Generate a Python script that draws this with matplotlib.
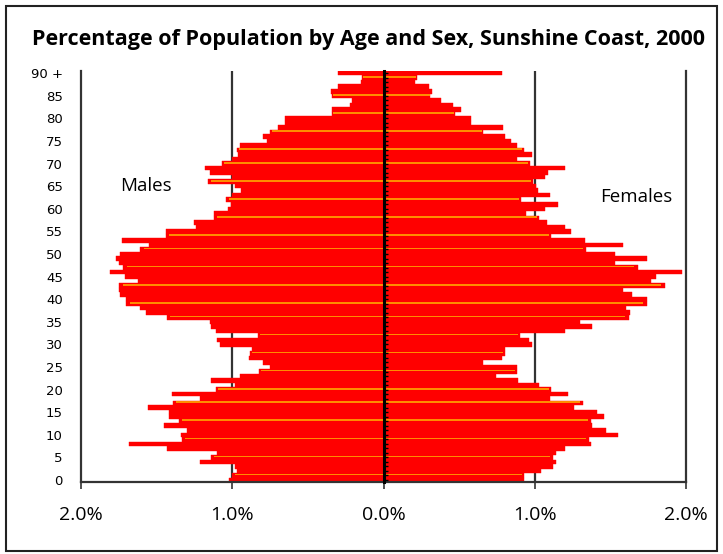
import numpy as np
import matplotlib
matplotlib.use("Agg")
import matplotlib.pyplot as plt
from matplotlib.patches import Rectangle
from matplotlib.ticker import FuncFormatter

# Single year of age, 0 .. 90+
ages = list(range(0, 91))

# Percentage of total population
males = [
    1.02, 1.00, 0.97, 0.98, 1.21, 1.14, 1.10, 1.43, 1.68, 1.33,
    1.34, 1.30, 1.45, 1.35, 1.42, 1.42, 1.56, 1.39, 1.21, 1.40,
    1.11, 0.98, 1.14, 0.95, 0.82, 0.75, 0.80, 0.89, 0.88, 0.87,
    1.08, 1.10, 0.83, 1.11, 1.14, 1.15, 1.43, 1.57, 1.61, 1.70,
    1.70, 1.74, 1.75, 1.75, 1.62, 1.71, 1.81, 1.72, 1.75, 1.77,
    1.74, 1.61, 1.55, 1.73, 1.44, 1.44, 1.24, 1.25, 1.12, 1.12,
    1.03, 1.01, 1.04, 1.00, 0.94, 0.98, 1.16, 1.00, 1.15, 1.18,
    1.07, 1.00, 0.96, 0.97, 0.95, 0.77, 0.80, 0.75, 0.70, 0.65,
    0.65, 0.34, 0.34, 0.22, 0.21, 0.34, 0.35, 0.30, 0.15, 0.14,
    0.30,
]
females = [
    0.93, 0.93, 1.04, 1.12, 1.14, 1.12, 1.14, 1.20, 1.37, 1.36,
    1.55, 1.47, 1.38, 1.37, 1.46, 1.41, 1.26, 1.32, 1.10, 1.22,
    1.11, 1.03, 0.89, 0.74, 0.88, 0.88, 0.66, 0.78, 0.80, 0.80,
    0.98, 0.96, 0.90, 1.20, 1.38, 1.30, 1.62, 1.63, 1.60, 1.74,
    1.74, 1.64, 1.58, 1.86, 1.77, 1.80, 1.97, 1.68, 1.53, 1.74,
    1.53, 1.34, 1.58, 1.33, 1.11, 1.24, 1.20, 1.08, 1.03, 0.94,
    1.07, 1.15, 0.91, 1.10, 1.02, 1.01, 0.99, 1.07, 1.09, 1.20,
    0.97, 0.88, 0.98, 0.93, 0.88, 0.84, 0.80, 0.66, 0.79, 0.58,
    0.58, 0.47, 0.51, 0.46, 0.38, 0.31, 0.32, 0.30, 0.21, 0.22,
    0.78,
]

# ages where the orange bar border shows through in the original
stripe_ages = [1, 5, 9, 13, 17, 20, 24, 28, 32, 36, 39, 43,
               47, 51, 54, 58, 62, 66, 70, 73, 77, 81, 85, 89]

age_ticks = list(range(0, 91, 5))
age_labels = [str(a) for a in age_ticks[:-1]] + ["90 +"]
pct_ticks = [-2, -1, 0, 1, 2]

male_arr = -np.array(males)
female_arr = np.array(females)

fig = plt.figure(figsize=(7.23, 5.54), dpi=100)
ax = fig.add_axes([0.112, 0.1295, 0.837, 0.7425])

# red bars
ax.barh(ages, male_arr, height=1.0, color="#ff0000",
        edgecolor="#ff0000", linewidth=0.3, zorder=2)
ax.barh(ages, female_arr, height=1.0, color="#ff0000",
        edgecolor="#ff0000", linewidth=0.3, zorder=2)

# thin orange stripes inside some bars
s_idx = np.array(stripe_ages)
ax.barh(s_idx + 0.2, male_arr[s_idx] * 0.985, height=0.38, color="#ff8c00",
        linewidth=0, zorder=3)
ax.barh(s_idx + 0.2, female_arr[s_idx] * 0.985, height=0.38, color="#ff8c00",
        linewidth=0, zorder=3)

ax.set_xlim(-2, 2)
ax.set_ylim(-0.5, 90.5)

# vertical gridlines behind the bars
for x in [-1, 1]:
    ax.axvline(x, color="#333333", linewidth=1.6, zorder=1)

ax.set_xticks(pct_ticks)
ax.xaxis.set_major_formatter(FuncFormatter(lambda v, p: "%.1f%%" % abs(v)))
ax.tick_params(axis="x", direction="out", length=5, width=1.2,
               color="#333333", labelsize=14, pad=12)
for lab in ax.get_xticklabels():
    lab.set_family("Open Sans")

ax.set_yticks(age_ticks)
ax.set_yticklabels(age_labels)
ax.tick_params(axis="y", length=0, labelsize=9.5, pad=13)

ax.spines["top"].set_visible(False)
for s in ["left", "right", "bottom"]:
    ax.spines[s].set_color("#333333")
    ax.spines[s].set_linewidth(1.6)

# centre axis with a small tick for every year of age
ax2 = ax.twinx()
ax2.set_ylim(ax.get_ylim())
for s in ["top", "left", "bottom"]:
    ax2.spines[s].set_visible(False)
ax2.spines["right"].set_position(("data", 0))
ax2.spines["right"].set_color("black")
ax2.spines["right"].set_linewidth(2.2)
ax2.set_yticks(ages)
ax2.set_yticklabels([])
ax2.tick_params(axis="y", direction="out", length=3, width=1.0, color="black")

ax.text(-1.57, 65, "Males", fontsize=13.5, family="Open Sans",
        ha="center", va="center", zorder=4)
ax.text(1.67, 62.6, "Females", fontsize=13.5, family="Open Sans",
        ha="center", va="center", zorder=4)

fig.text(0.51, 0.928, "Percentage of Population by Age and Sex, Sunshine Coast, 2000",
         ha="center", va="center", fontsize=15.5, fontweight="bold", family="Open Sans")

# outer frame round the whole chart
fig.patches.append(Rectangle((0.0083, 0.0054), 0.983, 0.984, transform=fig.transFigure,
                             fill=False, edgecolor="#222222", linewidth=1.5))

fig.savefig("out.png", dpi=100)
